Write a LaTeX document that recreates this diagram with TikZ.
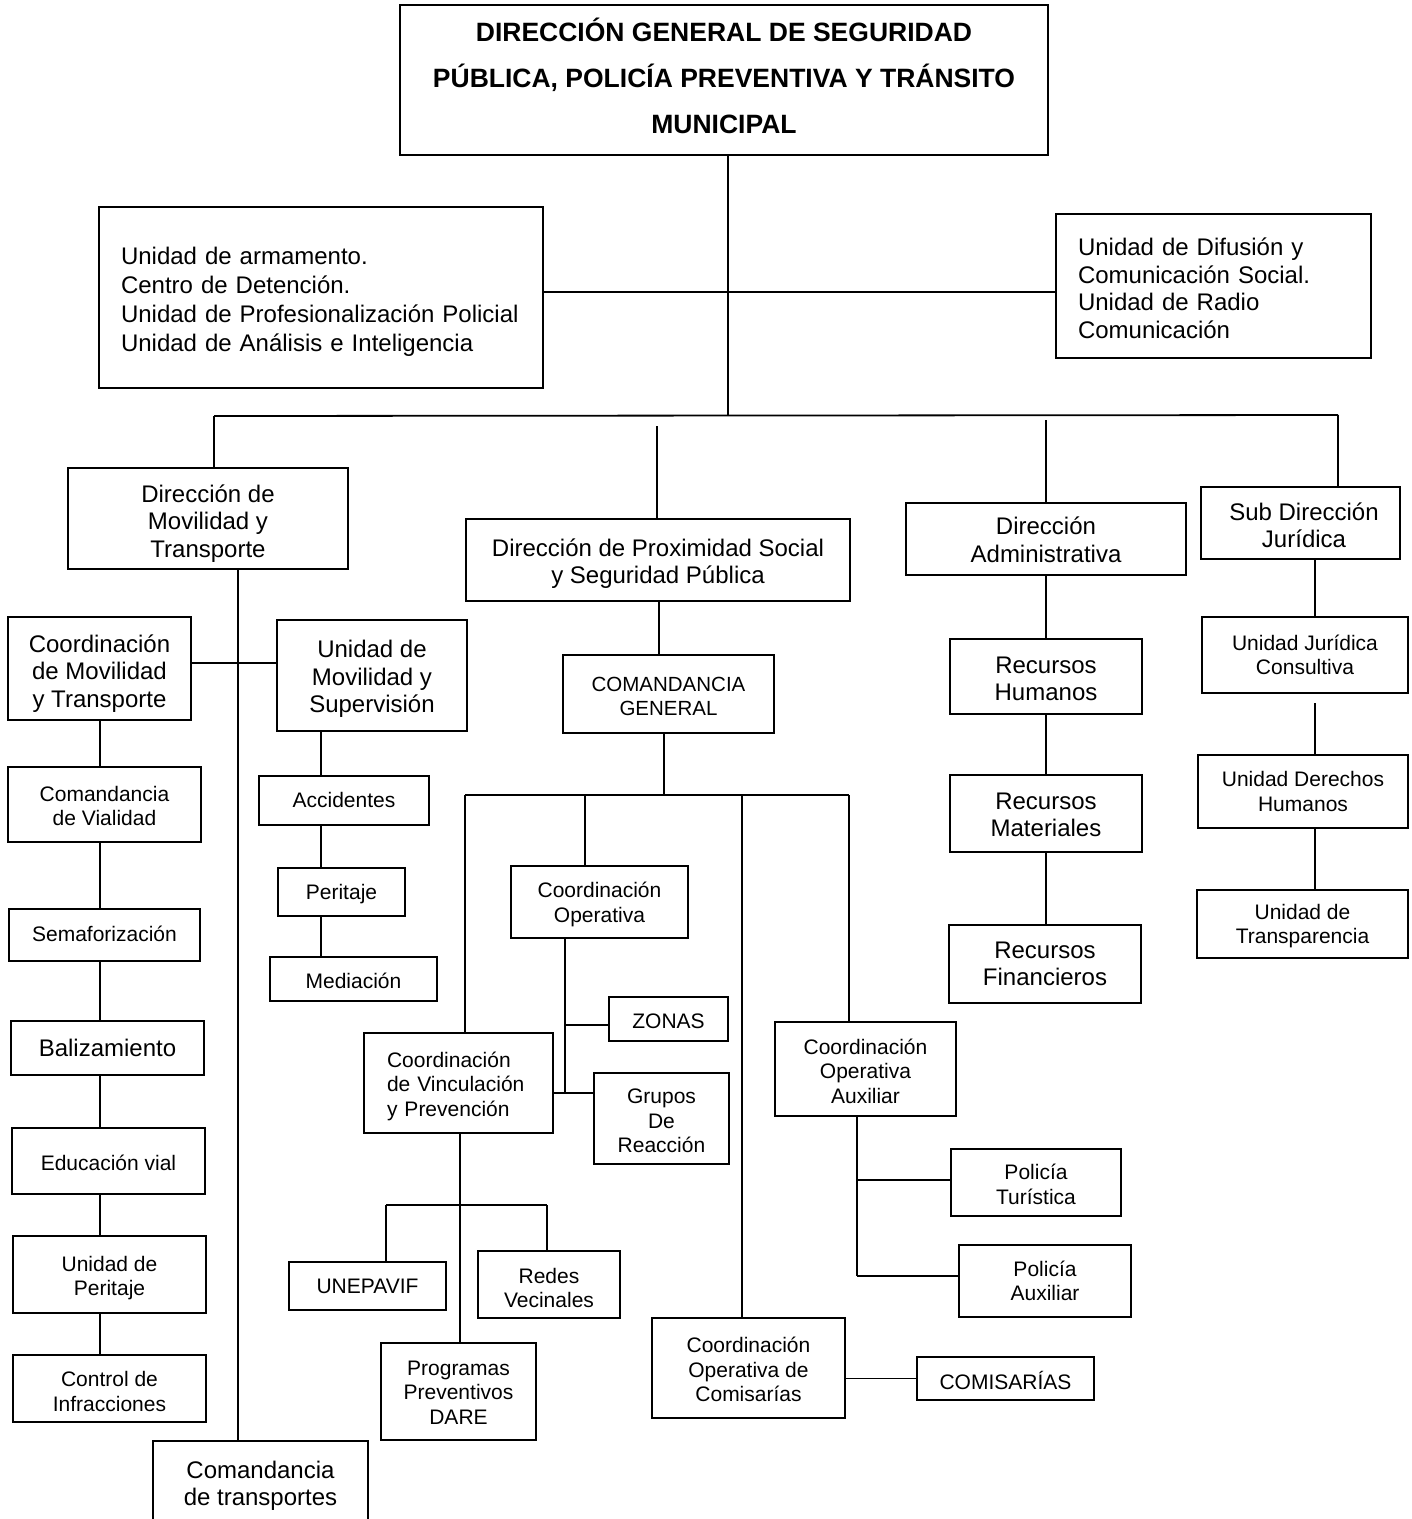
\documentclass[tikz,border=0pt]{standalone}
\usepackage{fontspec}
\setmainfont{Liberation Sans}
\newcommand\fntL{\fontsize{24}{27.5}\selectfont}
\newcommand\fntM{\fontsize{21}{24.5}\selectfont}
\newcommand\fntT{\fontsize{26.5}{46}\selectfont\bfseries}
\tikzset{
  bx/.style={draw, line width=2.5pt, inner sep=0pt},
  tx/.style={align=center, inner sep=0pt, font=\fntL, yshift=-2.5pt},
  sm/.style={font=\fntM, yshift=1pt},
  ln/.style={line width=1.8pt}
}
% \bx[text options]{name}{x1}{y1}{x2}{y2}{text}
\newcommand\bx[7][]{%
  \node[bx,minimum width={(#5-#3)*1pt},minimum height={(#6-#4)*1pt}] (#2) at ({(#3+#5)/2},{(#4+#6)/2}) {};
  \node[tx,#1] (#2t) at (#2.center) {#7};}
\begin{document}
\begin{tikzpicture}[x=1pt,y=-1pt]
\useasboundingbox[fill=white] (0,0) rectangle (1412,1519);
% boxes
\bx[font=\fntT,yshift=6.5pt]{top}{400}{5}{1048}{155}{DIRECCIÓN GENERAL DE SEGURIDAD\\PÚBLICA, POLICÍA PREVENTIVA Y TRÁNSITO\\MUNICIPAL}
\bx[align=left,text width=400pt,font=\fontsize{24}{29}\selectfont,yshift=-1.5pt]{ul}{99}{207}{543}{388}{Unidad de armamento.\\Centro de Detención.\\Unidad de Profesionalización Policial\\Unidad de Análisis e Inteligencia}
\bx[align=left,text width=271pt]{ur}{1056}{214}{1371}{358}{Unidad de Difusión y\\Comunicación Social.\\Unidad de Radio\\Comunicación}
\bx[yshift=-2.5pt]{dmt}{68}{468}{348}{569}{Dirección de\\Movilidad y\\Transporte}
\bx[yshift=-1pt]{dps}{466}{519}{850}{601}{Dirección de Proximidad Social\\y Seguridad Pública}
\bx[yshift=1.5pt]{da}{906}{503}{1186}{575}{Dirección\\Administrativa}
\bx[xshift=3.5pt]{sdj}{1201}{487}{1400}{559}{Sub Dirección\\Jurídica}
% left column
\bx[yshift=-2.5pt]{cmt}{8}{617}{191}{720}{Coordinación\\de Movilidad\\y Transporte}
\bx[yshift=-1pt]{ums}{277}{620}{467}{731}{Unidad de\\Movilidad y\\Supervisión}
\bx[sm]{cv}{8}{767}{201}{842}{Comandancia\\de Vialidad}
\bx[sm,yshift=2.5pt]{sem}{9}{909}{200}{961}{Semaforización}
\bx[yshift=2.5pt]{bal}{11}{1021}{204}{1075}{Balizamiento}
\bx[sm]{edu}{12}{1128}{205}{1194}{Educación vial}
\bx[sm,yshift=-2pt]{up}{13}{1236}{206}{1313}{Unidad de\\Peritaje}
\bx[sm,yshift=-1.5pt]{ci}{13}{1355}{206}{1422}{Control de\\Infracciones}
\bx[yshift=-2pt]{ct}{153}{1441}{368}{1522}{Comandancia\\de transportes}
\bx[sm,yshift=2.5pt]{acc}{259}{776}{429}{825}{Accidentes}
\bx[sm,yshift=-0.5pt]{per}{278}{868}{405}{916}{Peritaje}
\bx[sm,yshift=-0.5pt]{med}{270}{957}{437}{1001}{Mediación}
% center
\bx[sm,font=\fontsize{20.5}{24.5}\selectfont,yshift=-1pt]{cg}{563}{655}{774}{733}{COMANDANCIA\\GENERAL}
\bx[sm,yshift=-1pt]{co}{511}{866}{688}{938}{Coordinación\\Operativa}
\bx[sm,yshift=-0.5pt]{zon}{609}{997}{728}{1041}{ZONAS}
\bx[sm,yshift=-1pt]{gr}{594}{1073}{729}{1164}{Grupos\\De\\Reacción}
\bx[sm,align=left,text width=143pt,yshift=-1.5pt]{cvp}{364}{1033}{553}{1133}{Coordinación\\de Vinculación\\y Prevención}
\bx[sm,yshift=1.5pt]{une}{289}{1262}{446}{1310}{UNEPAVIF}
\bx[sm,yshift=-2pt]{red}{478}{1251}{620}{1318}{Redes\\Vecinales}
\bx[sm,yshift=0.5pt]{prog}{381}{1343}{536}{1440}{Programas\\Preventivos\\DARE}
\bx[sm,yshift=-0.5pt]{coa}{775}{1022}{956}{1116}{Coordinación\\Operativa\\Auxiliar}
\bx[sm,yshift=-0.5pt]{pt}{951}{1149}{1121}{1216}{Policía\\Turística}
\bx[sm,yshift=1.5pt]{pa}{959}{1245}{1131}{1317}{Policía\\Auxiliar}
\bx[sm]{coc}{652}{1318}{845}{1418}{Coordinación\\Operativa de\\Comisarías}
\bx[sm]{com}{917}{1357}{1094}{1400}{COMISARÍAS}
% right
\bx{rh}{950}{639}{1142}{714}{Recursos\\Humanos}
\bx[yshift=1pt]{rm}{950}{775}{1142}{852}{Recursos\\Materiales}
\bx[yshift=2.5pt]{rf}{949}{925}{1141}{1003}{Recursos\\Financieros}
\bx[sm,yshift=1.5pt]{ujc}{1202}{617}{1408}{693}{Unidad Jurídica\\Consultiva}
\bx[sm,yshift=1.5pt]{udh}{1198}{755}{1408}{828}{Unidad Derechos\\Humanos}
\bx[sm,yshift=-0.5pt]{utr}{1197}{890}{1408}{958}{Unidad de\\Transparencia}
% coordinates
\coordinate (j0) at (728,415);
\coordinate (j1) at (728,292);
\coordinate (bL) at (214,416);
\coordinate (bR) at (1338,415);
\coordinate (g1) at (657,426);
\coordinate (g2) at (1046,420);
\coordinate (h1) at (0,663);
\coordinate (v1) at (238,0);
\coordinate (v2) at (100,0);
\coordinate (v3) at (321,0);
\coordinate (v4) at (659,0);
\coordinate (v5) at (664,795);
\coordinate (b2L) at (465,795);
\coordinate (b2R) at (849,795);
\coordinate (g3) at (585,795);
\coordinate (v6) at (742,795);
\coordinate (v7) at (565,1093);
\coordinate (z1) at (565,1025);
\coordinate (v8) at (460,0);
\coordinate (b3L) at (386,1205);
\coordinate (b3R) at (547,1205);
\coordinate (k1) at (857,1180);
\coordinate (k2) at (857,1276);
\coordinate (v10) at (1046,0);
\coordinate (v11) at (1315,0);
\coordinate (g5) at (1315,703);
% connectors
\draw[ln] (top.south -| j0) -- (j0);
\draw[ln] (ul.east |- j1) -- (ur.west |- j1);
\draw[ln] (bL) -- (bR);
\draw[ln] (bL) -- (dmt.north -| bL);
\draw[ln] (g1) -- (dps.north -| g1);
\draw[ln] (g2) -- (da.north -| g2);
\draw[ln] (bR) -- (sdj.north -| bR);
% left
\draw[ln] (cmt.east |- h1) -- (ums.west |- h1);
\draw[ln] (dmt.south -| v1) -- (ct.north -| v1);
\draw[ln] (cmt.south -| v2) -- (cv.north -| v2);
\draw[ln] (cv.south -| v2) -- (sem.north -| v2);
\draw[ln] (sem.south -| v2) -- (bal.north -| v2);
\draw[ln] (bal.south -| v2) -- (edu.north -| v2);
\draw[ln] (edu.south -| v2) -- (up.north -| v2);
\draw[ln] (up.south -| v2) -- (ci.north -| v2);
\draw[ln] (ums.south -| v3) -- (acc.north -| v3);
\draw[ln] (acc.south -| v3) -- (per.north -| v3);
\draw[ln] (per.south -| v3) -- (med.north -| v3);
% center
\draw[ln] (dps.south -| v4) -- (cg.north -| v4);
\draw[ln] (cg.south -| v5) -- (v5);
\draw[ln] (b2L) -- (b2R);
\draw[ln] (b2L) -- (cvp.north -| b2L);
\draw[ln] (g3) -- (co.north -| g3);
\draw[ln] (v6) -- (coc.north -| v6);
\draw[ln] (b2R) -- (coa.north -| b2R);
\draw[ln] (co.south -| v7) -- (v7);
\draw[ln] (z1) -- (zon.west |- z1);
\draw[ln] (cvp.east |- v7) -- (gr.west |- v7);
\draw[ln] (cvp.south -| v8) -- (prog.north -| v8);
\draw[ln] (b3L) -- (b3R);
\draw[ln] (b3L) -- (une.north -| b3L);
\draw[ln] (b3R) -- (red.north -| b3R);
\draw[ln] (coa.south -| k1) -- (k2);
\draw[ln] (k1) -- (pt.west |- k1);
\draw[ln] (k2) -- (pa.west |- k2);
\draw[ln] (coc.east |- com.west) -- (com.west);
% right
\draw[ln] (da.south -| v10) -- (rh.north -| v10);
\draw[ln] (rh.south -| v10) -- (rm.north -| v10);
\draw[ln] (rm.south -| v10) -- (rf.north -| v10);
\draw[ln] (sdj.south -| v11) -- (ujc.north -| v11);
\draw[ln] (g5) -- (udh.north -| v11);
\draw[ln] (udh.south -| v11) -- (utr.north -| v11);
\end{tikzpicture}
\end{document}
